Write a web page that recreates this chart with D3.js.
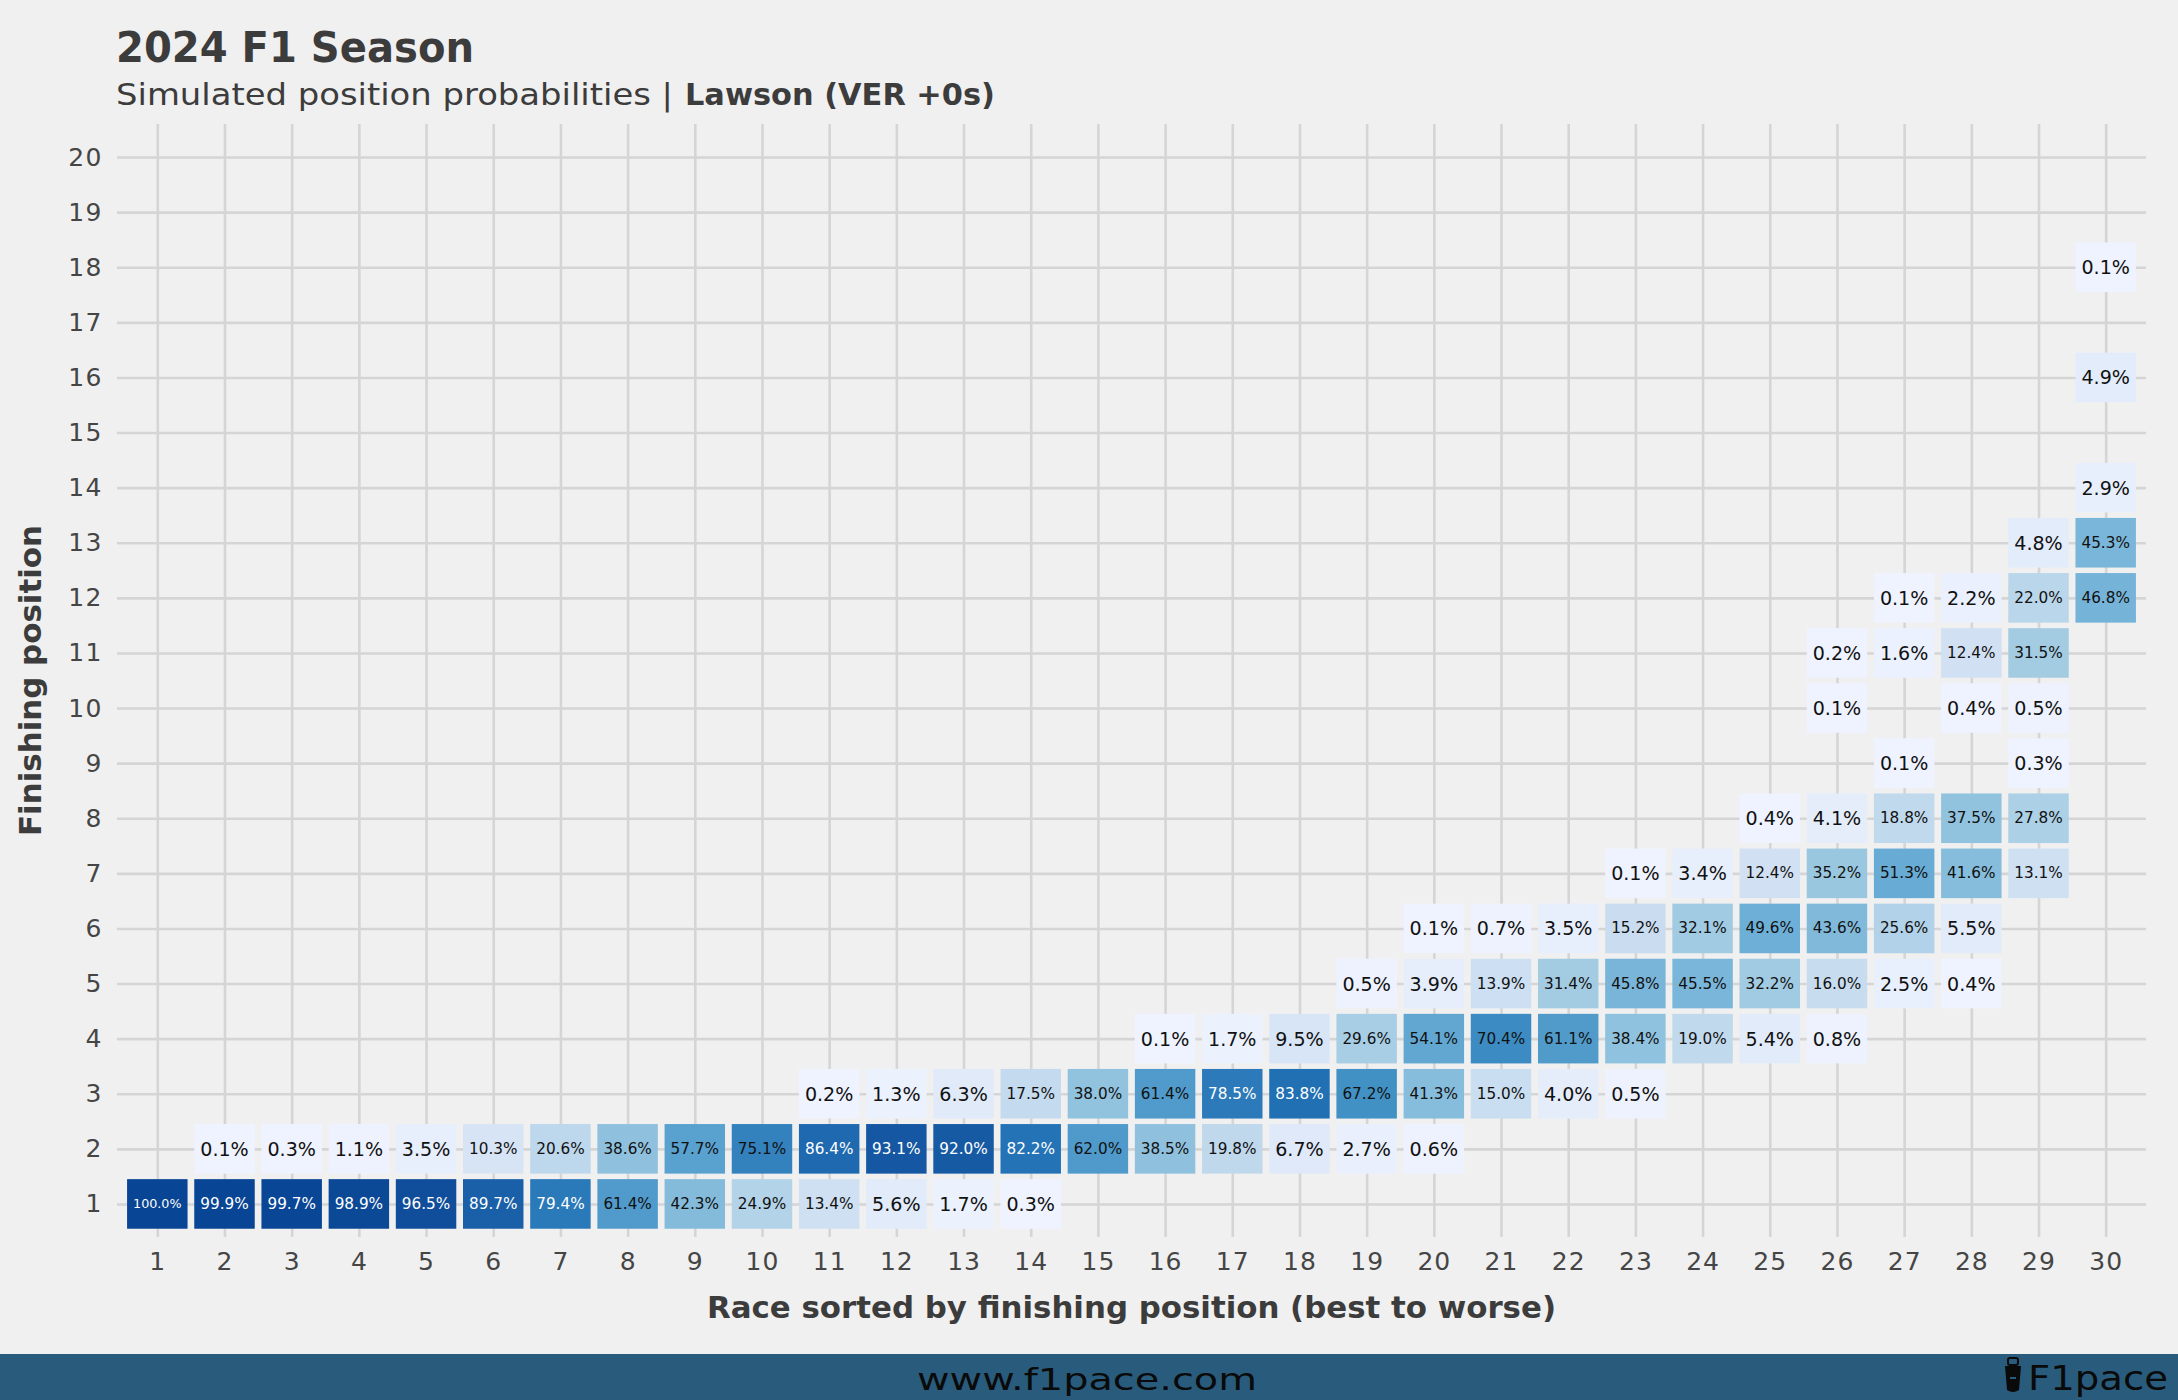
<!DOCTYPE html>
<html><head><meta charset="utf-8">
<script src="https://cdn.jsdelivr.net/npm/d3@7"></script>
<style>body{margin:0;background:#f0f0f0;} svg{display:block}</style>
</head><body>
<svg id="chart" width="2178" height="1400"></svg>
<script>
// ---------- data ----------
const raceLabels = [1,2,3,4,5,6,7,8,9,10,11,12,13,14,15,16,17,18,19,20,21,22,23,24,25,26,27,28,29,30];
const positionLabels = [1,2,3,4,5,6,7,8,9,10,11,12,13,14,15,16,17,18,19,20];

const cellRace = [
  1,
  2,2, 3,3, 4,4, 5,5, 6,6, 7,7, 8,8, 9,9, 10,10,
  11,11,11, 12,12,12, 13,13,13, 14,14,14,
  15,15,
  16,16,16, 17,17,17, 18,18,18,
  19,19,19,19,
  20,20,20,20,20,
  21,21,21,21, 22,22,22,22,
  23,23,23,23,23,
  24,24,24,24,
  25,25,25,25,25,
  26,26,26,26,26,26,26,
  27,27,27,27,27,27,27,
  28,28,28,28,28,28,28,
  29,29,29,29,29,29,29,
  30,30,30,30,30
];
const cellPosition = [
  1,
  1,2, 1,2, 1,2, 1,2, 1,2, 1,2, 1,2, 1,2, 1,2,
  1,2,3, 1,2,3, 1,2,3, 1,2,3,
  2,3,
  2,3,4, 2,3,4, 2,3,4,
  2,3,4,5,
  2,3,4,5,6,
  3,4,5,6, 3,4,5,6,
  3,4,5,6,7,
  4,5,6,7,
  4,5,6,7,8,
  4,5,6,7,8,10,11,
  5,6,7,8,9,11,12,
  5,6,7,8,10,11,12,
  7,8,9,10,11,12,13,
  12,13,14,16,18
];
const cellProbability = [
  100.0,
  99.9,0.1, 99.7,0.3, 98.9,1.1, 96.5,3.5, 89.7,10.3, 79.4,20.6, 61.4,38.6, 42.3,57.7, 24.9,75.1,
  13.4,86.4,0.2, 5.6,93.1,1.3, 1.7,92.0,6.3, 0.3,82.2,17.5,
  62.0,38.0,
  38.5,61.4,0.1, 19.8,78.5,1.7, 6.7,83.8,9.5,
  2.7,67.2,29.6,0.5,
  0.6,41.3,54.1,3.9,0.1,
  15.0,70.4,13.9,0.7, 4.0,61.1,31.4,3.5,
  0.5,38.4,45.8,15.2,0.1,
  19.0,45.5,32.1,3.4,
  5.4,32.2,49.6,12.4,0.4,
  0.8,16.0,43.6,35.2,4.1,0.1,0.2,
  2.5,25.6,51.3,18.8,0.1,1.6,0.1,
  0.4,5.5,41.6,37.5,0.4,12.4,2.2,
  13.1,27.8,0.3,0.5,31.5,22.0,4.8,
  46.8,45.3,2.9,4.9,0.1
];
const bluesPalette = ["#eff3ff","#c6dbef","#9ecae1","#6baed6","#4292c6","#2171b5","#084594"];

const titleText = "2024 F1 Season";
const subtitleText = "Simulated position probabilities |";
const subtitleBold = "Lawson (VER +0s)";
const xTitle = "Race sorted by finishing position (best to worse)";
const yTitle = "Finishing position";

// ---------- layout ----------
const W = 2178, H = 1400;
const panel = {left: 117, right: 2146, top: 124, bottom: 1237};
const svg = d3.select("#chart");
svg.append("rect").attr("width", W).attr("height", H).attr("fill", "#f0f0f0");

const x = d3.scaleLinear().domain([0.4, 30.6]).range([panel.left, panel.right]);
const y = d3.scaleLinear().domain([0.4, 20.6]).range([panel.bottom, panel.top]);
const stepX = x(2) - x(1), stepY = y(1) - y(2);
const tileW = stepX * 0.9, tileH = stepY * 0.9;

const ext = d3.extent(cellProbability);
const color = d3.scaleLinear()
  .domain(bluesPalette.map((c, i) => ext[0] + (ext[1] - ext[0]) * i / (bluesPalette.length - 1)))
  .range(bluesPalette)
  .interpolate(d3.interpolateLab);

const gridColor = "#d5d5d5", gridW = 2.6;

// gridlines
const gx = svg.append("g").attr("transform", `translate(0,${panel.bottom})`)
  .call(d3.axisBottom(x).tickValues(raceLabels).tickSize(-(panel.bottom - panel.top)).tickFormat(""));
gx.select(".domain").remove();
gx.selectAll("line").attr("stroke", gridColor).attr("stroke-width", gridW);

const gy = svg.append("g").attr("transform", `translate(${panel.left},0)`)
  .call(d3.axisLeft(y).tickValues(positionLabels).tickSize(-(panel.right - panel.left)).tickFormat(""));
gy.select(".domain").remove();
gy.selectAll("line").attr("stroke", gridColor).attr("stroke-width", gridW);

// cells
const cells = cellRace.map((r, i) => ({race: r, pos: cellPosition[i], p: cellProbability[i]}));
const fmt = d3.format(".1f");

svg.append("g").selectAll("rect").data(cells).join("rect")
  .attr("x", d => x(d.race) - tileW / 2)
  .attr("y", d => y(d.pos) - tileH / 2)
  .attr("width", tileW).attr("height", tileH)
  .attr("fill", d => color(d.p));

const labels = svg.append("g").selectAll("text").data(cells).join("text")
  .attr("x", d => x(d.race))
  .attr("y", d => y(d.pos))
  .attr("text-anchor", "middle")
  .attr("dominant-baseline", "central")
  .attr("font-family", "DejaVu Sans")
  .attr("font-size", 20)
  .attr("fill", d => d.p > 77 ? "#ffffff" : "#111111")
  .text(d => fmt(d.p) + "%");
labels.each(function() {
  const len = this.getComputedTextLength();
  const fs = Math.min(21, 20 * 48.5 / len);
  d3.select(this).attr("font-size", fs);
});

// axis labels
const ax = svg.append("g").attr("transform", `translate(0,${panel.bottom})`)
  .call(d3.axisBottom(x).tickValues(raceLabels).tickSize(0).tickPadding(15));
ax.select(".domain").remove();
ax.selectAll("text").attr("font-family", "DejaVu Sans").attr("font-size", 25)
  .attr("letter-spacing", 1).attr("fill", "#454545");

const ay = svg.append("g").attr("transform", `translate(${panel.left},0)`)
  .call(d3.axisLeft(y).tickValues(positionLabels).tickSize(0).tickPadding(14));
ay.select(".domain").remove();
ay.selectAll("text").attr("font-family", "DejaVu Sans").attr("font-size", 25)
  .attr("letter-spacing", 1.5).attr("fill", "#454545");

// titles
svg.append("text").attr("x", 116).attr("y", 62)
  .attr("font-family", "DejaVu Sans").attr("font-weight", "bold").attr("font-size", 42)
  .attr("fill", "#3c3c3c").attr("textLength", 358).attr("lengthAdjust", "spacingAndGlyphs")
  .text(titleText);
svg.append("text").attr("x", 116).attr("y", 105)
  .attr("font-family", "DejaVu Sans").attr("font-size", 31)
  .attr("fill", "#3c3c3c").attr("textLength", 557).attr("lengthAdjust", "spacingAndGlyphs")
  .text(subtitleText);
svg.append("text").attr("x", 685).attr("y", 105)
  .attr("font-family", "DejaVu Sans").attr("font-weight", "bold").attr("font-size", 31)
  .attr("fill", "#3c3c3c").attr("textLength", 310).attr("lengthAdjust", "spacingAndGlyphs")
  .text(subtitleBold);

svg.append("text").attr("x", (panel.left + panel.right) / 2).attr("y", 1318)
  .attr("text-anchor", "middle")
  .attr("font-family", "DejaVu Sans").attr("font-weight", "bold").attr("font-size", 30)
  .attr("fill", "#3c3c3c").attr("textLength", 849).attr("lengthAdjust", "spacingAndGlyphs")
  .text(xTitle);

svg.append("text")
  .attr("transform", `translate(41,${(panel.top + panel.bottom) / 2}) rotate(-90)`)
  .attr("text-anchor", "middle")
  .attr("font-family", "DejaVu Sans").attr("font-weight", "bold").attr("font-size", 30)
  .attr("fill", "#3c3c3c").attr("textLength", 311).attr("lengthAdjust", "spacingAndGlyphs")
  .text(yTitle);

// footer
svg.append("rect").attr("x", 0).attr("y", 1354).attr("width", W).attr("height", H - 1354).attr("fill", "#295c7c");
svg.append("text").attr("x", 1087).attr("y", 1390).attr("text-anchor", "middle")
  .attr("font-family", "DejaVu Sans").attr("font-size", 31).attr("fill", "#0a0a0a")
  .attr("textLength", 340).attr("lengthAdjust", "spacingAndGlyphs")
  .text("www.f1pace.com");
svg.append("text").attr("x", 2168).attr("y", 1390).attr("text-anchor", "end")
  .attr("font-family", "DejaVu Sans").attr("font-size", 33).attr("fill", "#0a0a0a")
  .attr("textLength", 140).attr("lengthAdjust", "spacingAndGlyphs")
  .text("F1pace");
// small cup icon
const icon = svg.append("g").attr("transform", "translate(2013,1358)");
icon.append("path").attr("d", "M-8,8 L8,8 L6,32 Q0,36 -6,32 Z").attr("fill", "#0a0a0a");
icon.append("rect").attr("x", -5).attr("y", 0).attr("width", 10).attr("height", 7).attr("rx", 2).attr("fill", "none").attr("stroke", "#0a0a0a").attr("stroke-width", 2);
icon.append("line").attr("x1", -3).attr("x2", 3).attr("y1", 20).attr("y2", 20).attr("stroke", "#295c7c").attr("stroke-width", 2);
</script>
</body></html>
